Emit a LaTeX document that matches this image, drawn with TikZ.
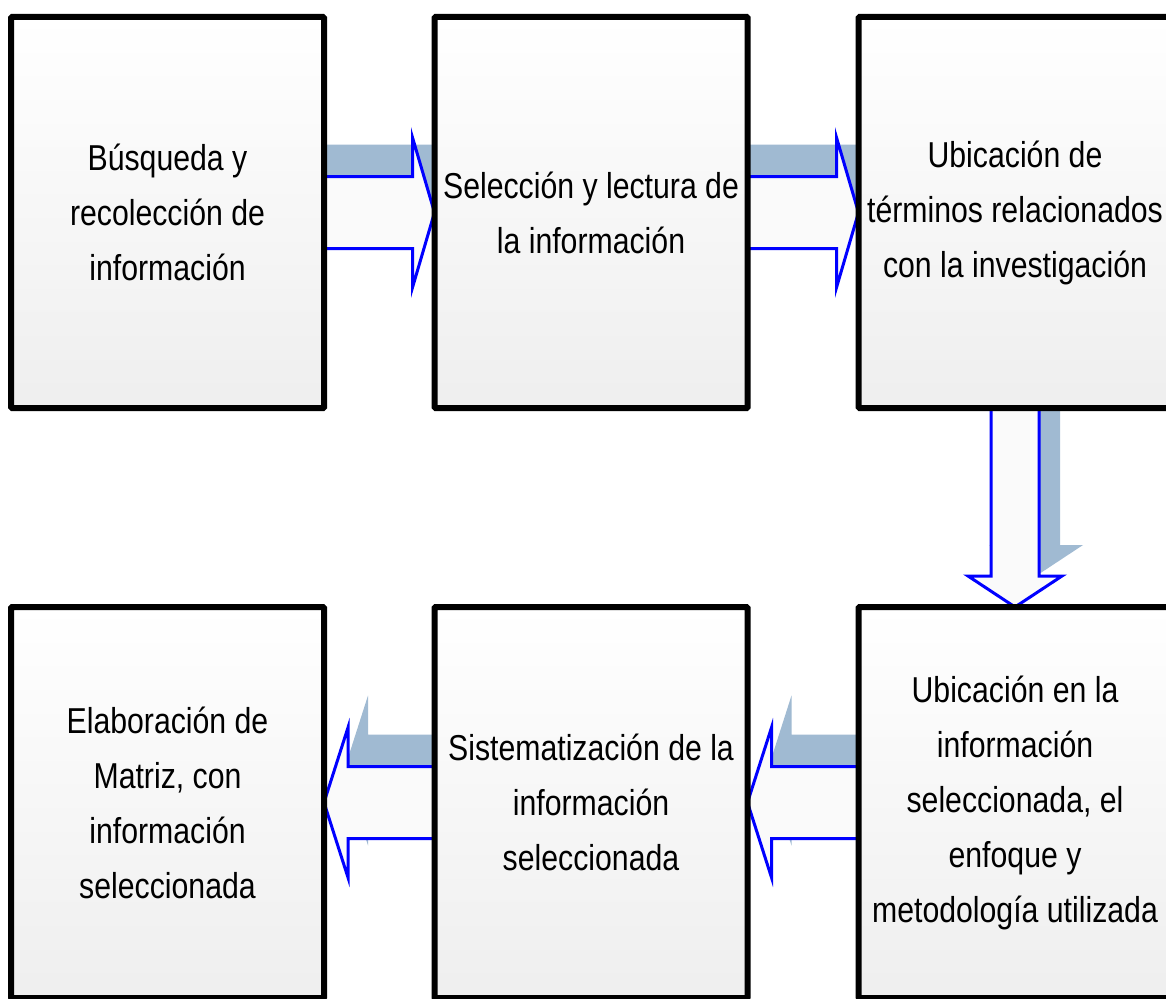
\documentclass[tikz,border=0pt]{standalone}
\usepackage{fontspec}
\setmainfont[FakeStretch=0.84]{Liberation Sans}
\usetikzlibrary{calc,backgrounds}

\definecolor{shadowblue}{RGB}{160,186,210}

\tikzset{
  stepbox/.style={draw=black, line width=6pt, rounded corners=1pt, outer sep=0pt,
    minimum width=313pt, minimum height=391pt, inner sep=0pt,
    top color=white, bottom color=gray!13, align=center,
    font=\fontsize{36}{55}\selectfont},
  flowarrow/.style={draw=blue, line width=3pt, fill=gray!4, line join=miter},
  arrowshadow/.style={draw=none, fill=shadowblue},
}

% block arrow, left or right: #1 from, #2 tip, #3 head length (signed)
\newcommand{\sidearrow}[3]{%
  \foreach \st/\sx/\sy in {arrowshadow/20/32, flowarrow/0/0}{
    \draw[\st] ($(#1)+({\sx-(#3)},36+\sy)$) -- ($(#2)+({\sx-(#3)},36+\sy)$)
      -- ($(#2)+({\sx-(#3)},75+\sy)$) -- ($(#2)+(\sx,\sy)$)
      -- ($(#2)+({\sx-(#3)},-75+\sy)$) -- ($(#2)+({\sx-(#3)},-36+\sy)$)
      -- ($(#1)+({\sx-(#3)},-36+\sy)$) -- cycle;
  }}

\begin{document}
\begin{tikzpicture}[x=1pt,y=1pt]
    \useasboundingbox (0,0) rectangle (1166,-998);
    % top row
    \node[stepbox] (busqueda)  at (167.5,-212.5) {Búsqueda y\\recolección de\\información};
    \node[stepbox] (seleccion) at (591,-212.5)   {Selección y lectura de\\la información};
    \node[stepbox] (terminos)  at (1015,-212.5)  {Ubicación de\\términos relacionados\\con la investigación};
    % bottom row
    \node[stepbox] (enfoque)   at (1015,-802.5)  {Ubicación en la\\información\\seleccionada, el\\enfoque y\\metodología utilizada};
    \node[stepbox] (sistema)   at (591,-802.5)   {Sistematización de la\\información\\seleccionada};
    \node[stepbox] (matriz)    at (167.5,-802.5) {Elaboración de\\Matriz, con\\información\\seleccionada};

    \begin{scope}[on background layer]
    \fill[white] (0,0) rectangle (1166,-998);
    \sidearrow{busqueda.east}{seleccion.west}{22}
    \sidearrow{seleccion.east}{terminos.west}{22}
    \sidearrow{enfoque.west}{sistema.east}{-24}
    \sidearrow{sistema.west}{matriz.east}{-24}
    % down arrow
    \foreach \st/\sx/\sy in {arrowshadow/21/31, flowarrow/0/0}{
      \draw[\st] ($(terminos.south)+(-24+\sx,\sy)$) -- ($(enfoque.north)+(-24+\sx,31+\sy)$)
        -- ($(enfoque.north)+(-47+\sx,31+\sy)$) -- ($(enfoque.north)+(\sx,\sy)$)
        -- ($(enfoque.north)+(47+\sx,31+\sy)$) -- ($(enfoque.north)+(24+\sx,31+\sy)$)
        -- ($(terminos.south)+(24+\sx,\sy)$) -- cycle;
    }
    \end{scope}
\end{tikzpicture}
\end{document}
